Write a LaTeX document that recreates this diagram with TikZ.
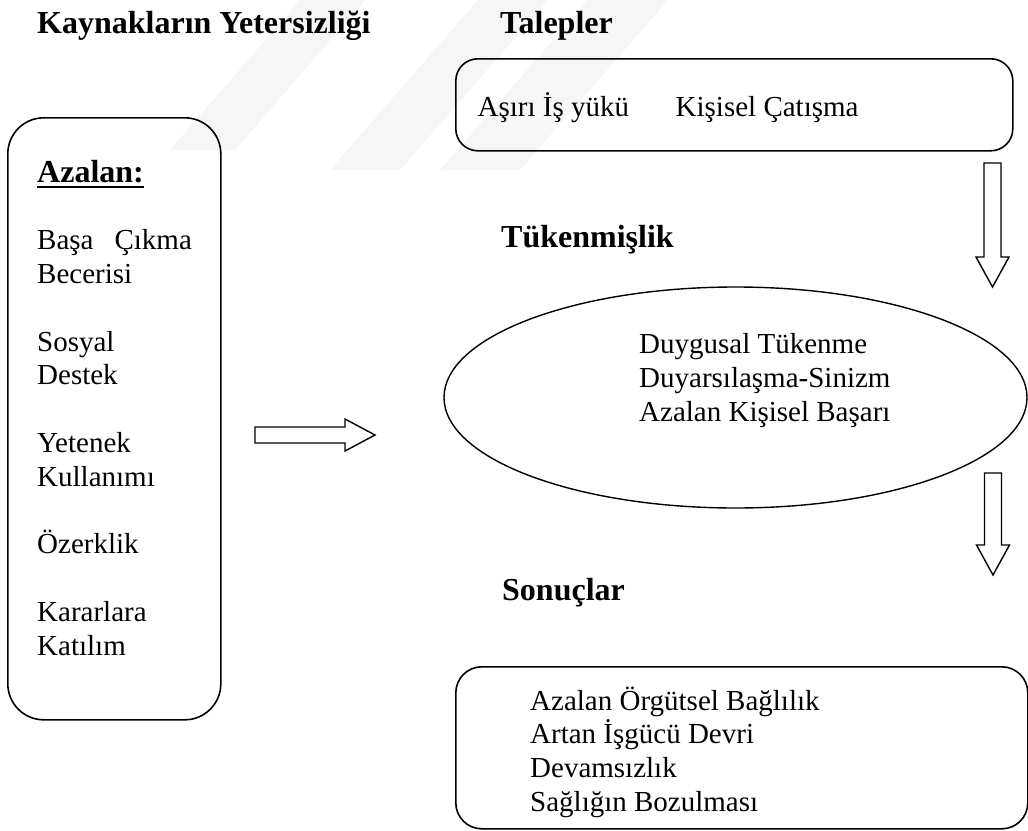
\documentclass[tikz,border=0pt]{standalone}
\usepackage{fontspec}
\setmainfont{Liberation Serif}
\usetikzlibrary{positioning, shapes.geometric}

\tikzset{
  box/.style={draw, line width=1.6pt, rounded corners=#1, inner sep=0pt, anchor=north west},
  head/.style={font=\fontsize{32pt}{36pt}\selectfont\bfseries, inner sep=0pt, anchor=base west},
  body/.style={font=\fontsize{29pt}{33.8pt}\selectfont, inner sep=0pt, anchor=base west},
  fat/.style={draw, line width=1.4pt, line join=miter},
  mark band/.style={fill=gray!7, draw=none},
  pics/downarrow/.style={code={
    \draw[fat] (-8.5,0) -- (-8.5,#1-30) -- (-16.5,#1-30) -- (0,#1)
      -- (16.5,#1-30) -- (8.5,#1-30) -- (8.5,0) -- cycle;}},
  pics/rightarrow/.style={code={
    \draw[fat] (0,-8) -- (#1-30,-8) -- (#1-30,-16) -- (#1,0)
      -- (#1-30,16) -- (#1-30,8) -- (0,8) -- cycle;}}
}

\begin{document}
\begin{tikzpicture}[x=1pt, y=-1pt]
  \useasboundingbox (0,0) rectangle (1028,830);

  % faint watermark stripes
  \fill[mark band] (170,150) -- (235,150) -- (365,0) -- (300,0) -- cycle;
  \fill[mark band] (330,170) -- (400,170) -- (548,0) -- (478,0) -- cycle;
  \fill[mark band] (440,170) -- (520,170) -- (668,0) -- (588,0) -- cycle;

  % headings
  \node[head] (kaynak) at (37,33) {Kaynakların Yetersizliği};
  \node[head] (talep) at (500,33) {Talepler};
  \node[head] (tuken) at (501,247) {Tükenmişlik};
  \node[head] (sonuc) at (502,600) {Sonuçlar};

  % left box
  \node[box=36pt, minimum width=213pt, minimum height=602pt] (leftbox) at (7,117) {};
  \node[head] (azalan) at (37,182) {Azalan:};
  \draw[line width=2pt] ([yshift=-5pt]azalan.base west) -- ([yshift=-5pt]azalan.base east);
  \foreach \ty/\tx [count=\i] in {249.6/{Başa\hspace{21pt}Çıkma}, 283.4/Becerisi,
      351/Sosyal, 384.8/Destek, 452.4/Yetenek, 486.2/Kullanımı,
      553.8/Özerklik, 621.4/Kararlara, 655.2/Katılım}
    \node[body] (res\i) at (37,\ty) {\tx};

  % top box
  \node[box=22pt, minimum width=557pt, minimum height=92pt] (talepbox) at (455,58) {};
  \node[body] (isyuku) at (477.5,116) {Aşırı İş yükü};
  \node[body] (catisma) at (675.5,116) {Kişisel Çatışma};

  % ellipse
  \node[draw, ellipse, line width=1.4pt, minimum width=583pt, minimum height=221pt] (tukenme) at (735.5,397.5) {};
  \node[body] (duygu) at (639,353) {Duygusal Tükenme};
  \node[body] (duyars) at (639,387) {Duyarsılaşma-Sinizm};
  \node[body] (basari) at (639,421) {Azalan Kişisel Başarı};

  % bottom box
  \node[box=26pt, minimum width=572pt, minimum height=162pt] (sonucbox) at (455,666) {};
  \node[body] (orgut) at (530,710) {Azalan Örgütsel Bağlılık};
  \node[body] (isgucu) at (530,743.8) {Artan İşgücü Devri};
  \node[body] (devam) at (530,777.6) {Devamsızlık};
  \node[body] (saglik) at (530,811.4) {Sağlığın Bozulması};

  % block arrows
  \coordinate (a1) at (992.5,163);
  \coordinate (a2) at (993,473);
  \coordinate (a3) at (255,435);
  \pic at (a1) {downarrow=124};
  \pic at (a2) {downarrow=102};
  \pic at (a3) {rightarrow=120};
\end{tikzpicture}
\end{document}
